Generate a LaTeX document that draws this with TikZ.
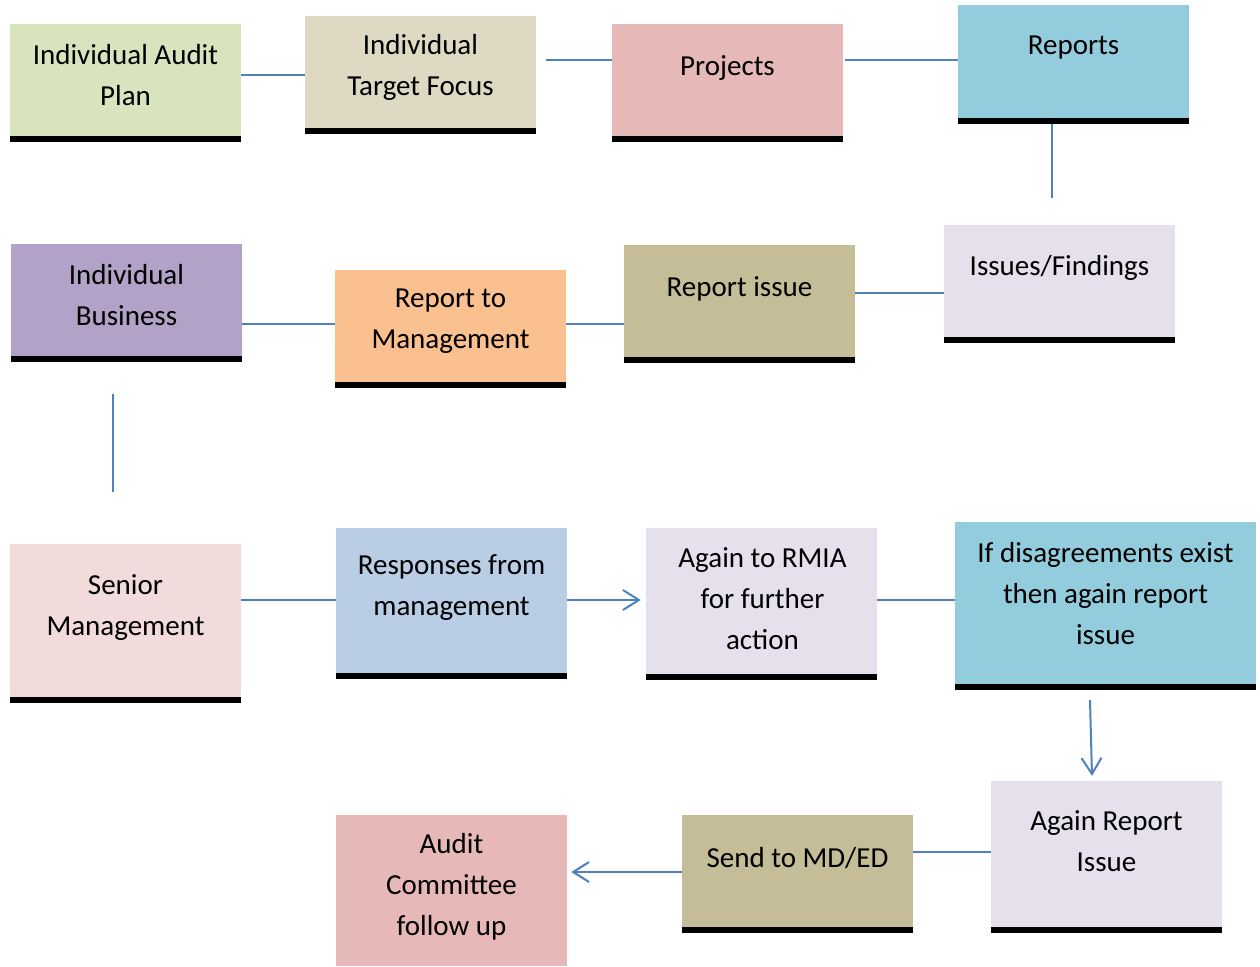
\documentclass[tikz,border=0pt]{standalone}
\usepackage{fontspec}
\setmainfont{Carlito}
\usetikzlibrary{arrows.meta}
\definecolor{cgreen}{HTML}{D7E4BD}
\definecolor{ctan}{HTML}{DDD9C3}
\definecolor{cpink}{HTML}{E6B9B8}
\definecolor{ccyan}{HTML}{93CDDD}
\definecolor{clav}{HTML}{E5E0EC}
\definecolor{colive}{HTML}{C4BD97}
\definecolor{corange}{HTML}{FAC090}
\definecolor{cpurple}{HTML}{B3A2C7}
\definecolor{crose}{HTML}{F2DCDB}
\definecolor{cblue}{HTML}{B9CDE5}
\definecolor{linkblue}{HTML}{4F81BD}
\tikzset{
  plainbox/.style={rectangle, inner sep=0pt, draw=none, fill=#1},
  box/.style={plainbox=#1, path picture={\fill[black] (path picture bounding box.south west) rectangle ([yshift=6pt]path picture bounding box.south east);}},
  lbl/.style={font=\fontsize{29}{41}\selectfont, align=center, inner sep=0pt, yshift=-2pt},
  link/.style={draw=linkblue, line width=2pt},
  arr/.style={link, -{Straight Barb[length=16pt,width=20pt,line width=2pt]}}
}
\begin{document}
\begin{tikzpicture}[x=1pt,y=-1pt]
\useasboundingbox (0,0) rectangle (1260,966);
% boxes
\node[box=cgreen,  minimum width=231pt, minimum height=118pt] (b1) at (125.5,83) {};
\node[box=ctan,    minimum width=231pt, minimum height=118pt] (b2) at (420.5,75) {};
\node[box=cpink,   minimum width=231pt, minimum height=118pt] (b3) at (727.5,83) {};
\node[box=ccyan,   minimum width=231pt, minimum height=119pt] (b4) at (1073.5,64.5) {};
\node[box=clav,    minimum width=231pt, minimum height=118pt] (b5) at (1059.5,284) {};
\node[box=colive,  minimum width=231pt, minimum height=118pt] (b6) at (739.5,304) {};
\node[box=corange, minimum width=231pt, minimum height=118pt] (b7) at (450.5,329) {};
\node[box=cpurple, minimum width=231pt, minimum height=118pt] (b8) at (126.5,303) {};
\node[box=crose,   minimum width=231pt, minimum height=159pt] (b9) at (125.5,623.5) {};
\node[box=cblue,   minimum width=231pt, minimum height=151pt] (b10) at (451.5,603.5) {};
\node[box=clav,    minimum width=231pt, minimum height=152pt] (b11) at (761.5,604) {};
\node[box=ccyan,   minimum width=301pt, minimum height=168pt] (b12) at (1105.5,606) {};
\node[box=clav,    minimum width=231pt, minimum height=152pt] (b13) at (1106.5,857) {};
\node[box=colive,  minimum width=231pt, minimum height=118pt] (b14) at (797.5,874) {};
\node[plainbox=cpink, minimum width=231pt, minimum height=151pt] (b15) at (451.5,890.5) {};
% labels
\node[lbl] (t1) at (125.5,73.5) {Individual Audit\\Plan};
\node[lbl] (t2) at (420.5,65.5) {Individual\\Target Focus};
\node[lbl] (t3) at (727.5,66) {Projects};
\node[lbl] (t4) at (1073.5,46) {Reports};
\node[lbl] (t5) at (1059.5,266) {Issues/Findings};
\node[lbl] (t6) at (739.5,287) {Report issue};
\node[lbl] (t7) at (450.5,319.5) {Report to\\Management};
\node[lbl] (t8) at (126.5,293.5) {Individual\\Business};
\node[lbl] (t9) at (125.5,606) {Senior\\Management};
\node[lbl] (t10) at (451.5,585.5) {Responses from\\management};
\node[lbl] (t11) at (762.5,597) {Again to RMIA\\for further\\action};
\node[lbl] (t12) at (1105.5,592) {If disagreements exist\\then again report\\issue};
\node[lbl] (t13) at (1106.5,839.5) {Again Report\\Issue};
\node[lbl] (t14) at (797.5,856) {Send to MD/ED};
\node[lbl] (t15) at (451.5,885) {Audit\\Committee\\follow up};
% connectors
\draw[link] (b1.east |- 0,75) -- (b2.west |- 0,75);
\draw[link] ([xshift=10pt]b2.east |- 0,60) -- (b3.west |- 0,60);
\draw[link] ([xshift=2pt]b3.east |- 0,60) -- (b4.west |- 0,60);
\draw[link] (b4.south -| 1052,0) -- ([yshift=27pt]b5.north -| 1052,0);
\draw[link] (b5.west |- 0,293) -- (b6.east |- 0,293);
\draw[link] (b6.west |- 0,324) -- (b7.east |- 0,324);
\draw[link] (b7.west |- 0,324) -- (b8.east |- 0,324);
\draw[link] ([yshift=-32pt]b8.south -| 113,0) -- ([yshift=52pt]b9.north -| 113,0);
\draw[link] (b9.east |- 0,600) -- (b10.west |- 0,600);
\draw[arr] (b10.east |- 0,600) -- ([xshift=-5pt]b11.west |- 0,600);
\draw[link] (b11.east |- 0,600) -- (b12.west |- 0,600);
\draw[arr] ([yshift=-10pt]b12.south -| 1090,0) -- ([yshift=5pt]b13.north -| 1092,0);
\draw[link] (b13.west |- 0,852) -- (b14.east |- 0,852);
\draw[arr] (b14.west |- 0,872) -- ([xshift=4pt]b15.east |- 0,872);
\end{tikzpicture}
\end{document}
